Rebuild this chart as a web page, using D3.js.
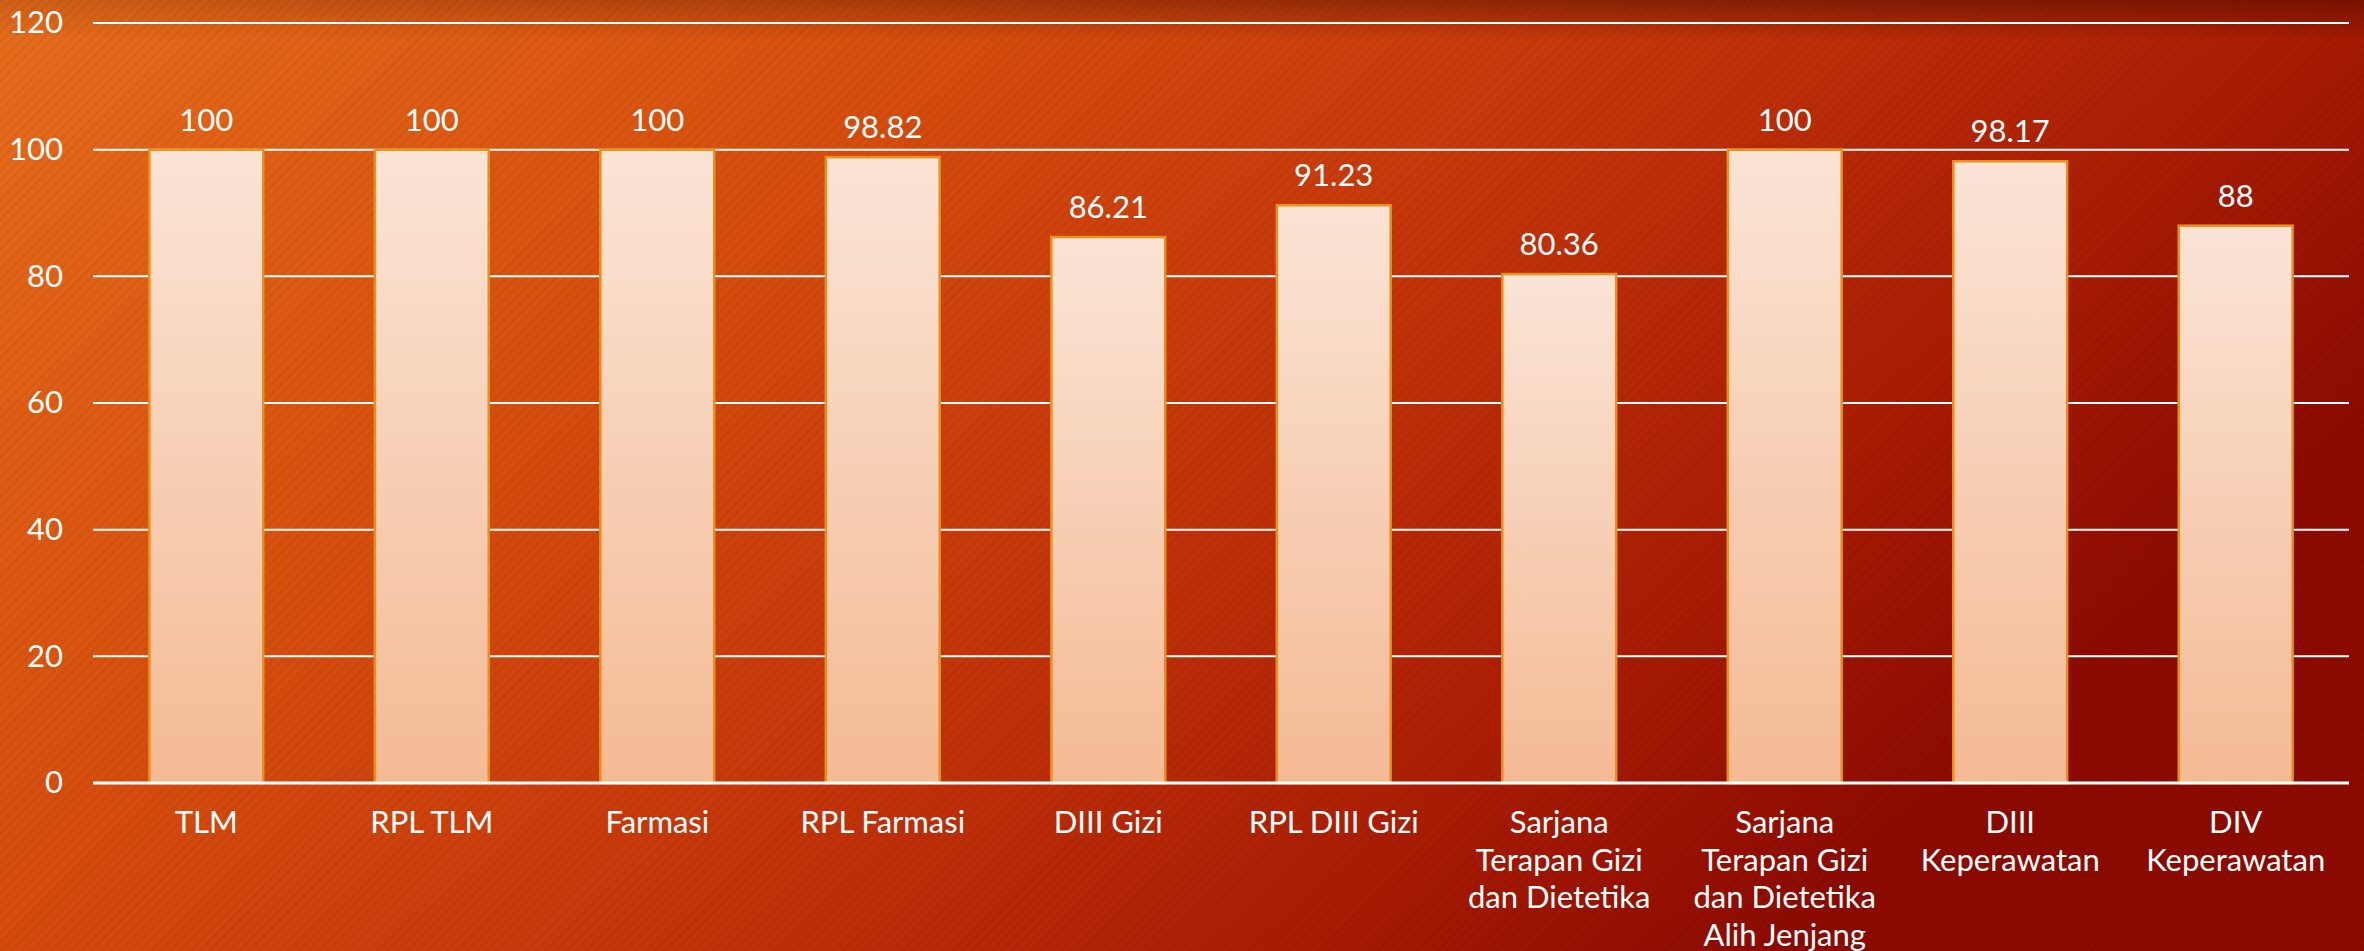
<!DOCTYPE html>
<html>
<head>
<meta charset="utf-8">
<script src="https://cdn.jsdelivr.net/npm/d3@7"></script>
<style>
  html, body { margin: 0; padding: 0; background: #c8400e; overflow: hidden; }
  svg { display: block; }
  text { font-family: Lato, "Open Sans", sans-serif; fill: #ffffff; }
</style>
</head>
<body>
<svg id="chart" width="2364" height="951"></svg>
<script>
// ---- data ----
const categories = ["TLM", "RPL TLM", "Farmasi", "RPL Farmasi", "DIII Gizi", "RPL DIII Gizi",
  "Sarjana Terapan Gizi dan Dietetika", "Sarjana Terapan Gizi dan Dietetika Alih Jenjang",
  "DIII Keperawatan", "DIV Keperawatan"];
const categoryLines = [
  ["TLM"], ["RPL TLM"], ["Farmasi"], ["RPL Farmasi"], ["DIII Gizi"], ["RPL DIII Gizi"],
  ["Sarjana", "Terapan Gizi", "dan Dietetika"],
  ["Sarjana", "Terapan Gizi", "dan Dietetika", "Alih Jenjang"],
  ["DIII", "Keperawatan"], ["DIV", "Keperawatan"]
];
const values = [100, 100, 100, 98.82, 86.21, 91.23, 80.36, 100, 98.17, 88];
const valueLabels = ["100", "100", "100", "98.82", "86.21", "91.23", "80.36", "100", "98.17", "88"];
const yTicks = [0, 20, 40, 60, 80, 100, 120];

// ---- layout ----
const W = 2364, H = 951;
const plot = { left: 93, right: 2349, top: 23, bottom: 783 };
const svg = d3.select("#chart");
const defs = svg.append("defs");

// background gradient
const bg = defs.append("linearGradient").attr("id", "bg")
  .attr("x1", 0).attr("y1", 0).attr("x2", 1).attr("y2", 0.45);
[[0, "#e76e1d"], [0.3, "#d9520f"], [0.55, "#c93a0b"], [0.8, "#ad1f04"], [1, "#8c0a00"]]
  .forEach(s => bg.append("stop").attr("offset", s[0]).attr("stop-color", s[1]));

// diagonal stripe pattern
const pat = defs.append("pattern").attr("id", "stripes")
  .attr("patternUnits", "userSpaceOnUse").attr("width", 7).attr("height", 7)
  .attr("patternTransform", "rotate(45)");
pat.append("rect").attr("width", 3).attr("height", 7).attr("fill", "#000").attr("opacity", 0.04);

// top shadow
const sh = defs.append("linearGradient").attr("id", "topshadow")
  .attr("x1", 0).attr("y1", 0).attr("x2", 0).attr("y2", 1);
sh.append("stop").attr("offset", 0).attr("stop-color", "#3a0800").attr("stop-opacity", 0.45);
sh.append("stop").attr("offset", 1).attr("stop-color", "#3a0800").attr("stop-opacity", 0);
const shx = defs.append("linearGradient").attr("id", "shadowMask")
  .attr("x1", 0).attr("y1", 0).attr("x2", 1).attr("y2", 0);
shx.append("stop").attr("offset", 0).attr("stop-color", "#fff").attr("stop-opacity", 0.3);
shx.append("stop").attr("offset", 0.7).attr("stop-color", "#fff").attr("stop-opacity", 1);
shx.append("stop").attr("offset", 1).attr("stop-color", "#fff").attr("stop-opacity", 1);
defs.append("mask").attr("id", "smask").append("rect")
  .attr("width", W).attr("height", 40).attr("fill", "url(#shadowMask)");

// bar gradient
const bar = defs.append("linearGradient").attr("id", "barGrad")
  .attr("x1", 0).attr("y1", 0).attr("x2", 0).attr("y2", 1);
bar.append("stop").attr("offset", 0).attr("stop-color", "#fae4d6");
bar.append("stop").attr("offset", 1).attr("stop-color", "#f4ba94");

svg.append("rect").attr("width", W).attr("height", H).attr("fill", "url(#bg)");
svg.append("rect").attr("width", W).attr("height", H).attr("fill", "url(#stripes)");
svg.append("rect").attr("width", W).attr("height", 40).attr("fill", "url(#topshadow)").attr("mask", "url(#smask)");

// ---- scales ----
const x = d3.scaleBand().domain(categories).range([plot.left, plot.right])
  .paddingInner(0.495).paddingOuter(0.25);
const y = d3.scaleLinear().domain([0, 120]).range([plot.bottom, plot.top]);

// gridlines
svg.append("g").selectAll("line").data(yTicks.filter(t => t > 0)).join("line")
  .attr("x1", plot.left).attr("x2", plot.right)
  .attr("y1", d => y(d)).attr("y2", d => y(d))
  .attr("stroke", "#ffffff").attr("stroke-width", 2);

// y axis labels
const yAxis = svg.append("g").attr("transform", `translate(${plot.left},0)`)
  .call(d3.axisLeft(y).tickValues(yTicks).tickSize(0).tickPadding(30).tickFormat(d3.format("d")));
yAxis.select(".domain").remove();
yAxis.selectAll("text").style("font-size", "31px").attr("fill", "#fff")
  .style("font-family", "Lato, 'Open Sans', sans-serif");

// bars
svg.append("g").selectAll("rect").data(values).join("rect")
  .attr("x", (d, i) => x(categories[i]))
  .attr("width", x.bandwidth())
  .attr("y", d => y(d))
  .attr("height", d => y(0) - y(d))
  .attr("fill", "url(#barGrad)")
  .attr("stroke", "#e8901e").attr("stroke-width", 2.5);

// baseline
svg.append("line").attr("x1", plot.left).attr("x2", plot.right)
  .attr("y1", y(0)).attr("y2", y(0)).attr("stroke", "#fff").attr("stroke-width", 3);

// value labels
svg.append("g").selectAll("text").data(values).join("text")
  .attr("x", (d, i) => x(categories[i]) + x.bandwidth() / 2)
  .attr("y", d => y(d) - 19)
  .attr("text-anchor", "middle")
  .style("font-size", "31px")
  .text((d, i) => valueLabels[i]);

// x labels
const xl = svg.append("g").selectAll("text").data(categories).join("text")
  .attr("x", d => x(d) + x.bandwidth() / 2)
  .attr("y", plot.bottom + 50)
  .attr("text-anchor", "middle")
  .style("font-size", "31px");
xl.each(function(d, i) {
  const t = d3.select(this);
  categoryLines[i].forEach((line, j) => {
    t.append("tspan").attr("x", x(d) + x.bandwidth() / 2)
      .attr("dy", j === 0 ? 0 : 37.5).text(line);
  });
});
</script>
</body>
</html>
